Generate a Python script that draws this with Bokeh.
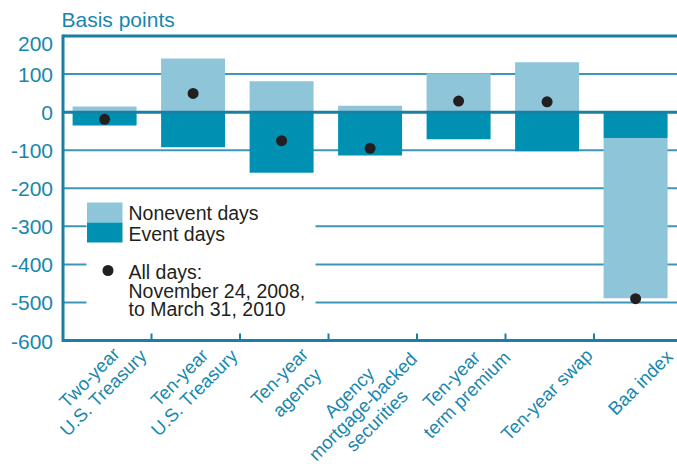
import math
from bokeh.plotting import figure
from bokeh.models import Range1d, Label, ColumnDataSource
from bokeh.embed import file_html
from bokeh.resources import INLINE

# ---------------- data ----------------
category_lines = [
    ["Two-year", "U.S. Treasury"],
    ["Ten-year", "U.S. Treasury"],
    ["Ten-year", "agency"],
    ["Agency", "mortgage-backed", "securities"],
    ["Ten-year", "term premium"],
    ["Ten-year swap"],
    ["Baa index"],
]
nonevent = [15, 141, 81, 17, 102, 131, -421]
event = [-35, -92, -159, -114, -71, -103, -68]
all_days = [-19, 49, -75, -95, 29, 27, -490]
y_ticks = [200, 100, 0, -100, -200, -300, -400, -500, -600]
y_title = "Basis points"
legend_labels = ["Nonevent days", "Event days", "All days:",
                 "November 24, 2008,", "to March 31, 2010"]

# ---------------- style / layout ----------------
LIGHT = "#8EC5D9"
DARK = "#0090B2"
AXIS = "#1A7FA3"
GRID = "#3A97B8"
TEXT = "#1787AD"
DOT = "#231F20"
FONT = "Liberation Sans"

W, H = 677, 464
PLOT_LEFT, PLOT_TOP, PLOT_BOTTOM = 62.5, 35.5, 340.0
CAT_W = 88.5
YMAX, YMIN = max(y_ticks), min(y_ticks)
PPB = (PLOT_BOTTOM - PLOT_TOP) / (YMAX - YMIN)     # pixels per basis point
X_END = (W - PLOT_LEFT) / CAT_W


def px_x(px):
    return (px - PLOT_LEFT) / CAT_W


def px_y(py):
    return YMAX - (py - PLOT_TOP) / PPB


# pixel offsets of each category-label line centre from (category centre, x-axis)
label_offsets = [
    [(-18, 37), (-4, 52)],
    [(-16.5, 37), (-1.5, 52)],
    [(-5, 36), (12.5, 52)],
    [(-23.5, 52), (-10, 66), (4, 80)],
    [(-10, 39), (5.5, 54)],
    [(-3, 54)],
    [(2, 42)],
]

# ---------------- stacking ----------------
ev_b, ev_t, ne_b, ne_t = [], [], [], []
for e, n in zip(event, nonevent):
    pos, neg = 0, 0
    for val, bl, tl in ((e, ev_b, ev_t), (n, ne_b, ne_t)):
        if val >= 0:
            bl.append(pos); pos += val; tl.append(pos)
        else:
            bl.append(neg); neg += val; tl.append(neg)

n_cat = len(category_lines)
xc = [i + 0.47 for i in range(n_cat)]
src = ColumnDataSource(dict(x=xc, ev_b=ev_b, ev_t=ev_t, ne_b=ne_b, ne_t=ne_t,
                            all=all_days))

p = figure(width=W, height=H,
           x_range=Range1d(px_x(0), px_x(W)),
           y_range=Range1d(px_y(H), px_y(0)),
           output_backend="svg", toolbar_location=None,
           min_border=0, min_border_left=0, min_border_right=0,
           min_border_top=0, min_border_bottom=0)
p.outline_line_color = None
p.xaxis.visible = False
p.yaxis.visible = False
p.xgrid.visible = False
p.ygrid.visible = False

# grid lines
grid_vals = [t for t in y_ticks if t not in (0, YMAX, YMIN)]
p.segment(x0=[0] * len(grid_vals), x1=[X_END] * len(grid_vals), y0=grid_vals, y1=grid_vals,
          line_color=GRID, line_width=2)

# legend background (covers grid lines)
p.quad(left=[px_x(86)], right=[px_x(315)], top=[px_y(194)], bottom=[px_y(331)],
       fill_color="white", line_color=None)

# bars
p.vbar(x="x", bottom="ne_b", top="ne_t", width=0.723, source=src,
       fill_color=LIGHT, line_color=None)
p.vbar(x="x", bottom="ev_b", top="ev_t", width=0.723, source=src,
       fill_color=DARK, line_color=None)

# zero line, top border, axes
p.segment(x0=[0, 0, 0], x1=[X_END] * 3, y0=[0, YMAX, YMIN], y1=[0, YMAX, YMIN],
          line_color=AXIS, line_width=3)
p.segment(x0=[0], x1=[0], y0=[YMIN - 1.5 / PPB], y1=[YMAX + 1.5 / PPB],
          line_color=AXIS, line_width=3)
# inner ticks at category boundaries
bnds = list(range(1, n_cat))
p.segment(x0=bnds, x1=bnds, y0=[YMIN] * len(bnds), y1=[YMIN + 7 / PPB] * len(bnds),
          line_color=AXIS, line_width=2)

# dots
p.scatter(x="x", y="all", source=src, size=11, fill_color=DOT, line_color=None)

# ---------------- legend ----------------
p.quad(left=[px_x(86.5)] * 2, right=[px_x(122)] * 2,
       top=[px_y(202), px_y(222)], bottom=[px_y(222), px_y(242)],
       fill_color=[LIGHT, DARK], line_color=None)
p.scatter(x=[px_x(107.5)], y=[px_y(270)], size=11, fill_color=DOT, line_color=None)
for txt, cy in zip(legend_labels, [212.5, 233, 271, 290, 308.5]):
    p.add_layout(Label(x=px_x(128), y=px_y(cy), text=txt, text_align="left",
                       text_baseline="middle", text_font=FONT, text_font_size="19.5px",
                       text_color=DOT))

# ---------------- texts ----------------
for t in y_ticks:
    p.add_layout(Label(x=0, y=t, x_offset=-10, y_offset=(-7.5 if t == YMAX else -1),
                       text=str(t), text_align="right", text_baseline="middle",
                       text_font=FONT, text_font_size="21px", text_color=TEXT))

p.add_layout(Label(x=0, y=YMAX, x_offset=-1.5, y_offset=16.5, text=y_title,
                   text_align="left", text_baseline="middle",
                   text_font=FONT, text_font_size="21px", text_color=TEXT))

for i, lines in enumerate(category_lines):
    for line, (dx, dy) in zip(lines, label_offsets[i]):
        p.add_layout(Label(x=i + 0.5, y=YMIN, x_offset=dx, y_offset=-dy,
                           text=line, angle=math.pi / 4, text_align="center",
                           text_baseline="middle", text_font=FONT,
                           text_font_size="18.5px", text_color=TEXT))

open("out.html", "w").write(file_html(p, INLINE))
